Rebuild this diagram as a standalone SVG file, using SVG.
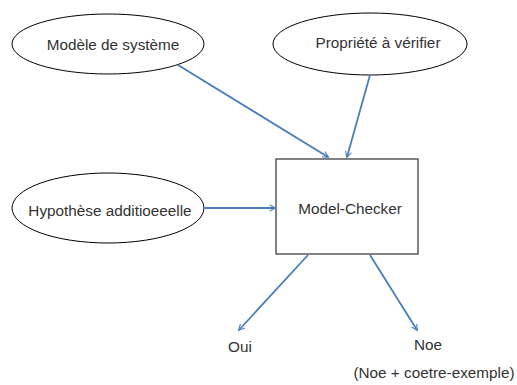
<svg xmlns="http://www.w3.org/2000/svg" width="517" height="385" viewBox="0 0 517 385">
<style>
text{font-family:"Liberation Sans",Arial,sans-serif;font-size:15.3px;fill:#333;text-anchor:middle;dominant-baseline:central}
.el{fill:#fff;stroke:#000;stroke-width:1}
.bx{fill:#fff;stroke:#404040;stroke-width:1.3}
.cn{stroke:#4a7ebb;stroke-width:1.8;fill:none;marker-end:url(#ah)}
</style>
<defs>
<marker id="ah" viewBox="0 0 10 10" refX="9" refY="5" markerWidth="6" markerHeight="6" markerUnits="userSpaceOnUse" orient="auto" overflow="visible">
<path d="M0,0 L10,5 L0,10" fill="none" stroke="#4a7ebb" stroke-width="1.8"/>
</marker>
</defs>
<rect width="517" height="385" fill="#fff"/>
<g id="n1"><ellipse class="el" cx="108" cy="44" rx="96" ry="30"/><text x="113" y="44">Modèle de système</text></g>
<g id="n2"><ellipse class="el" cx="370" cy="44" rx="97" ry="31"/><text x="378" y="42">Propriété à vérifier</text></g>
<g id="n3"><ellipse class="el" cx="108" cy="208" rx="96" ry="35"/><text x="110" y="210">Hypothèse additioeeelle</text></g>
<g id="n4"><rect class="bx" x="276" y="159" width="142" height="95"/><text x="350" y="208">Model-Checker</text></g>
<g id="n5"><text x="240" y="346">Oui</text></g>
<g id="n6"><text x="428" y="344">Noe</text><text x="434" y="372">(Noe + coetre-exemple)</text></g>
<g id="connectors">
<line class="cn" x1="178" y1="65" x2="328" y2="157"/>
<line class="cn" x1="370" y1="75" x2="347" y2="157"/>
<line class="cn" x1="205" y1="208" x2="275" y2="208"/>
<line class="cn" x1="308" y1="255" x2="239" y2="330"/>
<line class="cn" x1="370" y1="255" x2="417" y2="330"/>
</g>
</svg>
